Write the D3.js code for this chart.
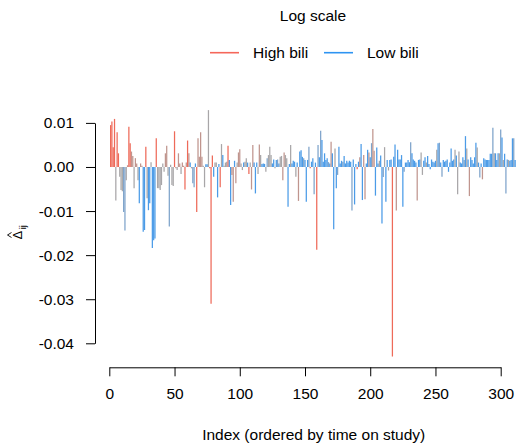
<!DOCTYPE html>
<html>
<head>
<meta charset="utf-8">
<script src="https://cdn.jsdelivr.net/npm/d3@7"></script>
<style>
  html, body { margin: 0; padding: 0; background: #fff; }
  svg { display: block; }
  text { font-family: "Liberation Sans", Arial, Helvetica, sans-serif; fill: #000; }
</style>
</head>
<body>
<svg id="chart" width="516" height="444"></svg>
<script>
// ---- Data ----
const title = "Log scale";
const legendLabels = ["High bili", "Low bili"];
const xLabel = "Index (ordered by time on study)";
const xTicks = [0, 50, 100, 150, 200, 250, 300];
const xTickLabels = ["0", "50", "100", "150", "200", "250", "300"];
const yTicks = [0.01, 0.00, -0.01, -0.02, -0.03, -0.04];
const yTickLabels = ["0.01", "0.00", "-0.01", "-0.02", "-0.03", "-0.04"];

// Delta_ij per observation, index 1..312
const deltas = [
  0.0095, 0.0103, 0.0045, 0.0109, -0.0076, 0.0079, 0.0031, -0.0022, -0.0052, -0.0055,
  -0.0102, -0.0144, -0.0030, 0.0004, 0.0091, 0.0054, 0.0035, 0.0025, -0.0048, 0.0020,
  0.0008, -0.0030, -0.0082, 0.0008, 0.0003, -0.0147, -0.0143, 0.0046, -0.0071, -0.0098,
  -0.0082, 0.0011, -0.0184, -0.0166, -0.0162, 0.0065, -0.0048, -0.0048, -0.0052, -0.0041,
  0.0008, -0.0011, 0.0031, 0.0048, -0.0020, -0.0135, 0.0005, -0.0041, -0.0043, 0.0081,
  -0.0003, -0.0007, 0.0031, 0.0008, -0.0016, 0.0010, 0.0003, -0.0051, 0.0010, 0.0060,
  0.0031, 0.0010, -0.0003, -0.0037, -0.0046, 0.0008, -0.0102, 0.0065, 0.0023, 0.0079,
  0.0023, 0.0003, -0.0046, 0.0006, 0.0006, 0.0129, -0.0003, -0.0310, 0.0026, -0.0022,
  0.0010, 0.0010, -0.0069, 0.0007, -0.0046, 0.0052, 0.0027, 0.0003, 0.0010, 0.0012,
  0.0048, 0.0016, -0.0086, -0.0018, -0.0079, 0.0014, -0.0037, 0.0010, 0.0033, 0.0040,
  0.0008, -0.0007, 0.0010, 0.0012, 0.0020, 0.0010, -0.0016, 0.0010, -0.0051, 0.0050,
  0.0010, -0.0060, 0.0010, -0.0016, 0.0051, 0.0027, 0.0007, 0.0008, 0.0007, -0.0011,
  0.0020, 0.0027, 0.0046, 0.0027, 0.0008, 0.0017, -0.0003, 0.0016, 0.0017, 0.0008,
  0.0023, 0.0025, -0.0030, 0.0033, 0.0027, 0.0020, -0.0090, 0.0007, 0.0050, 0.0008,
  0.0014, 0.0012, -0.0022, 0.0010, -0.0077, 0.0035, 0.0038, 0.0023, 0.0020, 0.0016,
  -0.0079, 0.0016, 0.0046, -0.0003, 0.0012, 0.0020, -0.0062, 0.0010, -0.0188, 0.0050,
  0.0022, 0.0082, 0.0061, 0.0012, 0.0031, 0.0016, 0.0020, 0.0011, 0.0008, 0.0057,
  0.0031, -0.0141, 0.0042, -0.0048, -0.0018, 0.0046, 0.0008, 0.0014, 0.0012, 0.0025,
  0.0008, 0.0014, 0.0010, 0.0014, 0.0012, -0.0099, 0.0017, -0.0085, 0.0007, -0.0005,
  0.0012, 0.0022, 0.0052, -0.0075, 0.0027, -0.0073, 0.0008, 0.0039, 0.0033, 0.0022,
  0.0054, 0.0086, 0.0037, -0.0065, 0.0044, 0.0008, 0.0014, 0.0026, -0.0128, -0.0023,
  0.0045, -0.0079, 0.0016, -0.0008, 0.0016, 0.0017, -0.0430, 0.0023, 0.0051, -0.0099,
  0.0039, 0.0017, 0.0017, 0.0027, -0.0090, -0.0011, 0.0010, 0.0010, 0.0016, 0.0011,
  0.0056, 0.0031, 0.0017, 0.0014, 0.0010, -0.0076, 0.0016, 0.0017, 0.0033, -0.0018,
  0.0014, 0.0022, 0.0010, 0.0025, 0.0007, -0.0005, 0.0017, 0.0012, 0.0010, 0.0014,
  0.0039, 0.0054, 0.0055, 0.0010, -0.0022, 0.0016, 0.0012, 0.0014, 0.0017, -0.0011,
  0.0010, 0.0042, 0.0014, 0.0017, 0.0039, 0.0026, -0.0062, 0.0035, 0.0010, 0.0008,
  0.0022, 0.0016, 0.0070, 0.0042, 0.0017, -0.0066, 0.0022, 0.0016, 0.0008, 0.0022,
  0.0055, 0.0044, 0.0010, -0.0024, 0.0008, -0.0028, 0.0020, 0.0017, 0.0016, 0.0016,
  0.0016, 0.0030, 0.0030, 0.0089, 0.0031, 0.0031, 0.0016, 0.0031, 0.0031, 0.0085,
  0.0067, 0.0016, 0.0030, -0.0060, 0.0017, 0.0016, 0.0014, 0.0016, 0.0065, 0.0065,
  0.0016, 0.0016
];

// bilirubin shade per observation (rows of 10): r = high, q, g, c, b = low
const shadeRows = [
  "rrrrgrrggg", "ccgqrrqqgq", "qgbqqbbrgb", "bgbbbrgggg", "ggqqgcgggr",
  "qgqqgqqrqr", "qbgccbrqqq", "qggbbgrrrb", "ggbbrgbggg", "rbbqqbqgqq",
  "ggbggbrgqq", "bbbgqgbbbg", "cgggbbgbcb", "ggqqggbbgb", "bbgbqbbbcb",
  "bbcrbbcbrc", "bcbbbbbcbq", "bbgbcbbbcb", "bbbbbcbbbr", "bqbbqqbbqb",
  "cqqbbbgbbc", "gbbgbbrbbq", "bbbbbcbbbb", "cbbbbqbbgg", "bbgbbbbbbb",
  "gbcbcbbbbb", "bbbbgbggbb", "bcbgbqbbbb", "bgbcbqbbbb", "bbbcgbbbgc",
  "bgbcbgbbbc", "bb"
];
const shades = shadeRows.join("").split("");

const shadeColors = { r: "#EC5A47", q: "#B98A82", g: "#9E9C9E", c: "#7099C4", b: "#3790E4" };
const legendColors = ["#F5675A", "#2E94F2"];

const data = deltas.map((v, i) => ({ index: i + 1, value: v, shade: shades[i] || "b" }));

// ---- Drawing ----
const svg = d3.select("#chart");
const FS = 15.5;

const x = d3.scaleLinear().domain([0, 300]).range([109.3, 500.7]);
const y = d3.scaleLinear().domain([0.01, -0.04]).range([122.9, 343.3]);

// bars (type = "h")
svg.append("g")
  .selectAll("line")
  .data(data)
  .join("line")
  .attr("x1", d => x(d.index))
  .attr("x2", d => x(d.index))
  .attr("y1", y(0))
  .attr("y2", d => y(d.value))
  .attr("stroke", d => shadeColors[d.shade])
  .attr("stroke-width", 1.25)
  .attr("stroke-opacity", 0.9);

// x axis
const xAxis = d3.axisBottom(x)
  .tickValues(xTicks)
  .tickFormat((d, i) => xTickLabels[i])
  .tickSize(9)
  .tickSizeOuter(0)
  .tickPadding(12);
const gx = svg.append("g").attr("transform", "translate(0,367.3)").call(xAxis);
gx.selectAll("text").style("font-size", FS + "px").attr("fill", "#000");
gx.selectAll("line, path").attr("stroke", "#000");

// y axis
const yAxis = d3.axisLeft(y)
  .tickValues(yTicks)
  .tickFormat((d, i) => yTickLabels[i])
  .tickSize(9)
  .tickSizeOuter(0)
  .tickPadding(12);
const gy = svg.append("g").attr("transform", "translate(95,0)").call(yAxis);
gy.selectAll("text").style("font-size", FS + "px").attr("fill", "#000");
gy.selectAll("line, path").attr("stroke", "#000");

// x label
svg.append("text")
  .attr("x", 313.7).attr("y", 439.5)
  .attr("text-anchor", "middle")
  .style("font-size", FS + "px")
  .text(xLabel);

// y label: Delta-hat with subscript ij, rotated
const yl = svg.append("g").attr("transform", "translate(22,232) rotate(-90)");
yl.append("text")
  .attr("x", -3).attr("y", 0)
  .attr("text-anchor", "middle")
  .style("font-size", "12.5px")
  .text("\u0394");
yl.append("text")
  .attr("x", 2.8).attr("y", 3.5)
  .style("font-size", "9px")
  .text("ij");
yl.append("path")
  .attr("d", "M-5.5,-10.5 L-3,-14.5 L-0.5,-10.5")
  .attr("fill", "none")
  .attr("stroke", "#000")
  .attr("stroke-width", 0.9);

// title
svg.append("text")
  .attr("x", 313).attr("y", 20.5)
  .attr("text-anchor", "middle")
  .style("font-size", FS + "px")
  .text(title);

// legend
const legendItems = [
  { label: legendLabels[0], color: legendColors[0], x0: 210, tx: 253 },
  { label: legendLabels[1], color: legendColors[1], x0: 324, tx: 367 }
];
const lg = svg.append("g");
legendItems.forEach(it => {
  lg.append("line")
    .attr("x1", it.x0).attr("x2", it.x0 + 29)
    .attr("y1", 52.7).attr("y2", 52.7)
    .attr("stroke", it.color).attr("stroke-width", 1.6);
  lg.append("text")
    .attr("x", it.tx).attr("y", 58.2)
    .style("font-size", FS + "px")
    .text(it.label);
});
</script>
</body>
</html>
